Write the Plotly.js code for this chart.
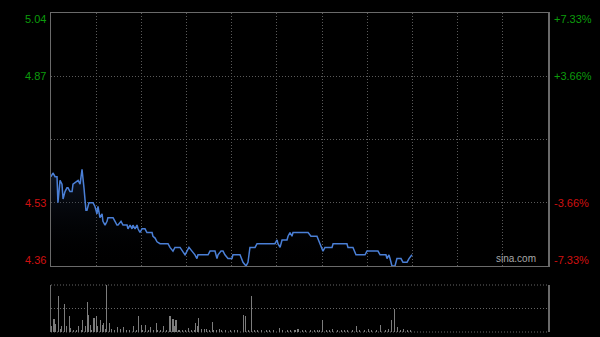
<!DOCTYPE html>
<html><head><meta charset="utf-8">
<script src="https://cdn.plot.ly/plotly-3.0.1.min.js"></script>
<style>html,body{margin:0;padding:0;background:#000;}#c{width:600px;height:337px;}</style>
</head><body><div id="c"></div>
<script>
// minute index since open (0..330, HK session) and price
const priceMin = [0,1.3,2.7,4,4.6,6,7.3,8,9.3,10.6,11.3,12.6,14,14.6,18,19.3,20.6,21.2,21.9,23.2,23.9,25.2,27.9,29.2,30.5,31.2,32.5,33.9,34.5,35.9,37.2,37.8,41.2,42.5,43.8,44.5,46.5,47.8,50.5,51.1,52.5,53.8,54.4,55.8,57.1,57.8,59.1,60.4,62.4,63.7,64.4,67.1,67.7,69.1,70.4,72.4,77.7,79,81,82.3,85.7,87.6,89,90.3,91.6,93.6,95.6,96.9,97.6,98.9,104.3,105.6,108.9,110.2,110.9,112.9,114.2,115.5,117.5,120.2,120.8,124.2,125.5,127.5,129.5,130.8,132.1,133.5,135.5,136.8,148.7,150.1,150.7,152.1,153.4,156.7,157.4,158.7,160,160.7,170.7,172.6,176.6,178.6,180.6,181.9,183.3,186.6,187.3,196.5,197.2,200.5,202.5,208.5,209.8,217.1,218.5,222.4,223.1,224.4,225.1,226.4,228.4,229.7,232.4,233.7,236.4,237.7,239.7];
const priceVal = [4.60,4.61,4.60,4.60,4.53,4.59,4.58,4.54,4.56,4.57,4.57,4.56,4.56,4.58,4.59,4.58,4.62,4.60,4.57,4.51,4.51,4.53,4.53,4.52,4.50,4.52,4.49,4.50,4.48,4.47,4.48,4.49,4.49,4.48,4.47,4.47,4.48,4.47,4.47,4.46,4.47,4.46,4.47,4.46,4.47,4.46,4.45,4.46,4.46,4.45,4.45,4.45,4.44,4.435,4.425,4.42,4.42,4.41,4.40,4.41,4.41,4.40,4.39,4.40,4.41,4.40,4.39,4.38,4.39,4.39,4.39,4.40,4.40,4.38,4.39,4.40,4.40,4.39,4.38,4.38,4.39,4.39,4.39,4.37,4.36,4.37,4.41,4.41,4.41,4.42,4.42,4.43,4.42,4.41,4.43,4.43,4.44,4.45,4.44,4.45,4.45,4.44,4.44,4.42,4.40,4.41,4.41,4.41,4.42,4.42,4.41,4.41,4.39,4.39,4.40,4.40,4.39,4.39,4.38,4.39,4.38,4.36,4.36,4.38,4.38,4.37,4.37,4.38,4.39];

const volMin = [0,2,3,5,6,7,9,10,12,13,15,17,18,20,21,23,24,25,26,27,28,29,30,31,33,34,35,36,37,39,40,42,44,46,48,50,52,55,57,58,60,61,63,65,66,68,70,71,73,75,77,79,81,82,83,85,87,89,91,93,95,96,97,98,100,102,103,105,107,108,110,112,113,116,119,122,124,128,129,131,133,135,137,140,143,145,148,152,154,157,159,162,164,167,169,172,175,177,178,180,183,185,187,190,193,195,197,200,203,205,208,211,213,216,219,222,224,226,228,230,232,234,237,239];
const volVal = [6,13,8,36,3,6,28,6,16,4,2,2,6,2,12,6,30,17,7,2,14,14,16,6,12,7,9,3,47,9,3,2,5,3,5,2,2,6,2,16,7,2,7,2,5,2,9,2,2,6,2,16,13,6,12,2,2,2,4,2,2,9,6,14,3,3,3,2,10,2,2,3,2,2,2,2,2,17,16,2,36,2,2,2,2,2,2,4,2,2,2,2,3,2,2,2,2,2,2,12,2,2,3,2,2,2,2,2,6,2,2,3,2,2,7,2,3,12,23,5,2,3,2,2];

const prevClose = 4.70;
const priceTicks = [5.04, 4.87, 4.53, 4.36];
const pctTicks = ['+7.33%', '+3.66%', '-3.66%', '-7.33%'];
const tickColors = ['#0c9c0c', '#0c9c0c', '#d01010', '#d01010'];
const labelShift = [-6, 0, 0, 6];

const FONT = 'Liberation Sans, Arial, sans-serif';
const annotations = [];
priceTicks.forEach((p, i) => {
  annotations.push({xref:'paper', yref:'y', x:0, y:p, text:p.toFixed(2), showarrow:false,
    xanchor:'right', yanchor:'middle', xshift:-3, yshift:labelShift[i],
    font:{family:FONT, size:11, color:tickColors[i]}});
  annotations.push({xref:'paper', yref:'y', x:1, y:p, text:pctTicks[i], showarrow:false,
    xanchor:'left', yanchor:'middle', xshift:4, yshift:labelShift[i],
    font:{family:FONT, size:11, color:tickColors[i]}});
});
annotations.push({xref:'paper', yref:'y domain', x:1, y:0, text:'sina.com', showarrow:false,
  xanchor:'right', yanchor:'bottom', xshift:-10, yshift:0,
  font:{family:FONT, size:10, color:'#a8a8a8'}});

const traces = [
  {x: priceMin, y: priceVal, type:'scatter', mode:'lines', xaxis:'x', yaxis:'y',
   line:{color:'#4a7fd6', width:1.5}, fill:'tozeroy',
   fillgradient:{type:'vertical', start:4.36, stop:4.62,
     colorscale:[[0,'rgba(0,0,0,0)'],[1,'rgba(40,60,100,0.35)']]},
   hoverinfo:'skip'},
  {x: volMin, y: volVal, type:'bar', xaxis:'x2', yaxis:'y2',
   marker:{color:'#7c7c7c', line:{width:0}}, width:0.7, hoverinfo:'skip'}
];

const gridCol = '#5a5a5a';
const DOTS = '1px,2px';
const layout = {
  width:600, height:337, paper_bgcolor:'#000', plot_bgcolor:'#000',
  margin:{l:51, r:52, t:13, b:5}, showlegend:false, bargap:0,
  xaxis:{domain:[0,1], anchor:'y', range:[0,330], tickmode:'linear', tick0:0, dtick:30,
    showgrid:true, gridcolor:gridCol, griddash:DOTS, gridwidth:1, zeroline:false,
    showticklabels:false, ticks:'', showline:true, mirror:true, linecolor:'#6a6a6a', linewidth:1.5},
  yaxis:{domain:[0.2069,1], anchor:'x', range:[4.36,5.04], tickmode:'array', tickvals:[4.87, prevClose, 4.53],
    showgrid:true, gridcolor:gridCol, griddash:DOTS, gridwidth:1, zeroline:false,
    showticklabels:false, ticks:'', showline:true, mirror:true, linecolor:'#6a6a6a', linewidth:1.5},
  xaxis2:{domain:[0,1], anchor:'y2', range:[0,330], showgrid:false, zeroline:false,
    showticklabels:false, ticks:'', showline:false},
  yaxis2:{domain:[0,0.1473], anchor:'x2', range:[0,47], tickmode:'array', tickvals:[23.5],
    showgrid:true, gridcolor:'#666', griddash:DOTS, gridwidth:1, zeroline:false,
    showticklabels:false, ticks:'', showline:true, mirror:true, linecolor:'#6a6a6a', linewidth:1.5},
  shapes:[
    {type:'line', xref:'x2 domain', yref:'y2 domain', x0:0, x1:1, y0:1, y1:1,
     line:{color:'#666', width:1, dash:DOTS}, layer:'below'},
    {type:'line', xref:'x2 domain', yref:'y2 domain', x0:0, x1:1, y0:0, y1:0,
     line:{color:'#666', width:1, dash:DOTS}, layer:'below'}
  ],
  annotations: annotations
};
Plotly.newPlot('c', traces, layout, {staticPlot:true, displayModeBar:false});
</script></body></html>
